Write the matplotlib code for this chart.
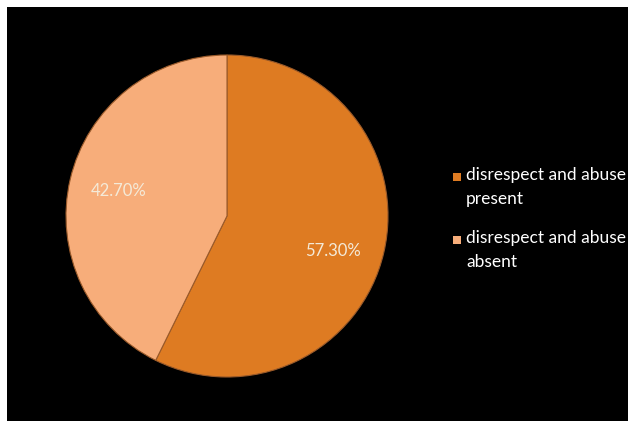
import numpy as np
import matplotlib.pyplot as plt
from matplotlib.patches import Rectangle

labels = ["disrespect and abuse\npresent", "disrespect and abuse\nabsent"]
values = [57.30, 42.70]
colors = ["#DE7B22", "#F7AD7A"]

W, H = 628, 421
fig = plt.figure(figsize=(W / 100, H / 100), dpi=100)
fig.patch.set_facecolor("white")

# black panel
bg = fig.add_axes([7 / W, 0, 621 / W, 414 / H])
bg.set_facecolor("black")
bg.set_xticks([])
bg.set_yticks([])
for s in bg.spines.values():
    s.set_visible(False)

# pie axes: centre ~ (227, 216) px, radius ~161 px
r = 161
cx, cy = 227, 216
ax = fig.add_axes([(cx - r) / W, (H - cy - r) / H, 2 * r / W, 2 * r / H])
ax.set_facecolor("none")
wedges, texts, autotexts = ax.pie(
    values, colors=colors, startangle=90, counterclock=False,
    autopct=lambda p: f"{p:.2f}%", pctdistance=0.69,
    wedgeprops=dict(edgecolor="#9a5a2a", linewidth=0.8),
    textprops=dict(color="#f4ead8", fontsize=12, family="Lato"),
)
ax.set_xlim(-1, 1)
ax.set_ylim(-1, 1)
ax.set_aspect("equal")

# nudge the big label a bit lower, like the original
x0, y0 = autotexts[0].get_position()
a = np.arctan2(y0, x0) - np.radians(5)
d = np.hypot(x0, y0)
autotexts[0].set_position((d * np.cos(a), d * np.sin(a)))

# legend, drawn by hand so the marker sits on the first line
for i, (lab, col) in enumerate(zip(labels, colors)):
    ytop = 177 + i * 63  # centre of first line, px from top
    fig.patches.append(Rectangle((453 / W, 1 - (ytop + 4) / H), 8 / W, 8 / H,
                                 transform=fig.transFigure, facecolor=col,
                                 edgecolor="none"))
    fig.text(466 / W, 1 - (ytop - 10) / H, lab, color="white", fontsize=12.5,
             family="Lato", va="top", ha="left", linespacing=1.65)

fig.savefig("out.png", dpi=100, facecolor=fig.get_facecolor())
